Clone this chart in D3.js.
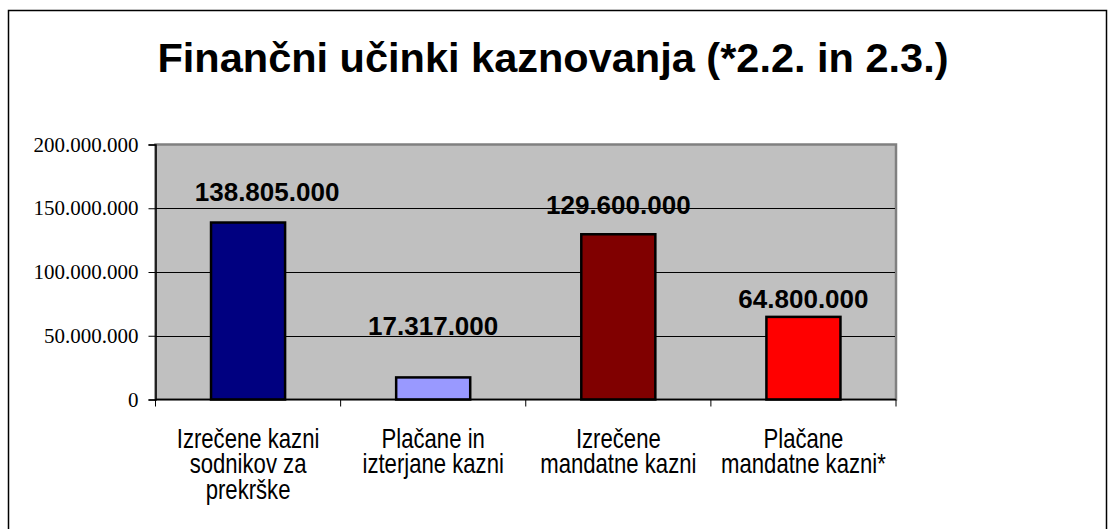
<!DOCTYPE html>
<html>
<head>
<meta charset="utf-8">
<script src="https://cdn.jsdelivr.net/npm/d3@7"></script>
<style>
  body { margin: 0; background: #fff; }
  svg { display: block; }
</style>
</head>
<body>
<svg id="chart" width="1109" height="529"></svg>
<script>
// data
const categories = [
  ["Izrečene kazni", "sodnikov za", "prekrške"],
  ["Plačane in", "izterjane kazni"],
  ["Izrečene", "mandatne kazni"],
  ["Plačane", "mandatne kazni*"],
];
const values = [138805000, 17317000, 129600000, 64800000];
const barColors = ["#000080", "#9999ff", "#800000", "#ff0000"];
const yTicks = [0, 50000000, 100000000, 150000000, 200000000];
const title = "Finančni učinki kaznovanja (*2.2. in 2.3.)";

// label nudges as placed in the original (dx, dy from bar top)
const labelNudge = [[19, -22], [0, -42], [0, -20], [0, -9]];

const svg = d3.select("#chart");
const plot = { left: 155.5, right: 896, top: 144.5, bottom: 399.5 };

const slFormat = d3.formatLocale({
  decimal: ",",
  thousands: ".",
  grouping: [3],
  currency: ["", ""],
}).format(",d");

// outer frame
svg.append("rect")
  .attr("x", 8.5).attr("y", 10.5)
  .attr("width", 1098).attr("height", 600)
  .attr("fill", "none")
  .attr("stroke", "#000")
  .attr("stroke-width", 1.5);

svg.append("text")
  .attr("x", 553).attr("y", 72)
  .attr("text-anchor", "middle")
  .style("font-family", "Liberation Sans, Arial, sans-serif")
  .style("font-weight", "bold")
  .style("font-size", "41.5px")
  .text(title);

const x = d3.scaleBand()
  .domain(d3.range(categories.length))
  .range([plot.left, plot.right])
  .paddingInner(0.6)
  .paddingOuter(0.3);

const y = d3.scaleLinear()
  .domain([0, 200000000])
  .range([plot.bottom, plot.top]);

// plot background
svg.append("rect")
  .attr("x", plot.left).attr("y", plot.top)
  .attr("width", plot.right - plot.left)
  .attr("height", plot.bottom - plot.top)
  .attr("fill", "#c0c0c0")
  .attr("stroke", "#808080")
  .attr("stroke-width", 2.5);

// gridlines
svg.append("g")
  .selectAll("line")
  .data(yTicks.slice(1, -1))
  .join("line")
  .attr("x1", plot.left).attr("x2", plot.right - 1)
  .attr("y1", (d) => Math.round(y(d)) + 0.5)
  .attr("y2", (d) => Math.round(y(d)) + 0.5)
  .attr("stroke", "#000")
  .attr("stroke-width", 1);

// bars
svg.append("g")
  .selectAll("rect")
  .data(values)
  .join("rect")
  .attr("x", (d, i) => x(i))
  .attr("y", (d) => y(d))
  .attr("width", x.bandwidth())
  .attr("height", (d) => y(0) - y(d))
  .attr("fill", (d, i) => barColors[i])
  .attr("stroke", "#000")
  .attr("stroke-width", 2.5);

// value labels
svg.append("g")
  .selectAll("text")
  .data(values)
  .join("text")
  .attr("x", (d, i) => x(i) + x.bandwidth() / 2 + labelNudge[i][0])
  .attr("y", (d, i) => y(d) + labelNudge[i][1])
  .attr("text-anchor", "middle")
  .style("font-family", "Liberation Sans, Arial, sans-serif")
  .style("font-weight", "bold")
  .style("font-size", "26px")
  .text((d) => slFormat(d));

// y axis
const yAxis = svg.append("g")
  .attr("transform", `translate(${plot.left},0)`)
  .call(d3.axisLeft(y).tickValues(yTicks).tickFormat(slFormat).tickSize(7).tickPadding(10));
yAxis.select(".domain").attr("stroke", "#000").attr("stroke-width", 1.5);
yAxis.selectAll(".tick line").attr("stroke", "#000");
yAxis.selectAll(".tick text")
  .attr("fill", "#000")
  .style("font-family", "Liberation Serif, Times New Roman, serif")
  .style("font-size", "21px");

// x axis line with ticks at category boundaries
const xg = svg.append("g");
xg.append("line")
  .attr("x1", plot.left).attr("x2", plot.right)
  .attr("y1", plot.bottom).attr("y2", plot.bottom)
  .attr("stroke", "#000").attr("stroke-width", 1.5);
xg.selectAll("line.tick")
  .data(d3.range(categories.length + 1))
  .join("line")
  .attr("class", "tick")
  .attr("x1", (i) => plot.left + i * x.step())
  .attr("x2", (i) => plot.left + i * x.step())
  .attr("y1", plot.bottom)
  .attr("y2", plot.bottom + 7)
  .attr("stroke", "#000");

// category labels (condensed as in the original), one text per line
const catG = xg.selectAll("g.cat")
  .data(categories)
  .join("g")
  .attr("class", "cat")
  .attr("transform", (d, i) => `translate(${x(i) + x.bandwidth() / 2},448) scale(0.82,1)`);
catG.selectAll("text")
  .data((d) => d)
  .join("text")
  .attr("x", 0)
  .attr("y", (d, j) => j * 25.5)
  .attr("text-anchor", "middle")
  .style("font-family", "Liberation Sans, Arial, sans-serif")
  .style("font-size", "27px")
  .text((d) => d);
</script>
</body>
</html>
